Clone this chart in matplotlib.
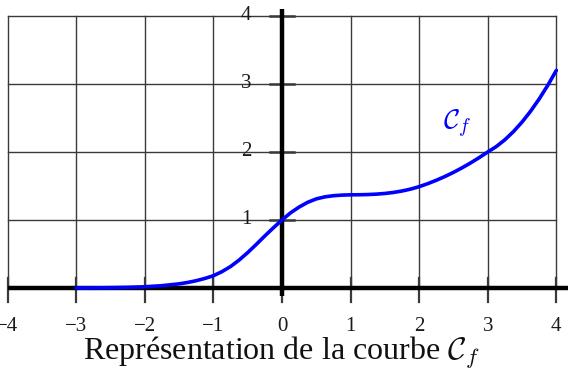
import matplotlib
matplotlib.use("Agg")
import matplotlib.pyplot as plt

# Data
x_vals = [-3.0, -2.75, -2.5, -2.25, -2.0, -1.75, -1.5, -1.375, -1.25, -1.125,
          -1.0, -0.875, -0.75, -0.625, -0.5, -0.375, -0.25, -0.125,
          0.0, 0.125, 0.25, 0.375, 0.5, 0.625, 0.75, 0.875,
          1.0, 1.125, 1.25, 1.375, 1.5, 1.625, 1.75, 1.875,
          2.0, 2.125, 2.25, 2.375, 2.5, 2.625, 2.75, 2.875,
          3.0, 3.125, 3.25, 3.375, 3.5, 3.625, 3.75, 3.875, 4.0]
y_vals = [0.0, 0.001, 0.004, 0.009, 0.018, 0.034, 0.061, 0.081, 0.107, 0.14,
          0.18, 0.24, 0.315, 0.41, 0.52, 0.64, 0.765, 0.885,
          1.0, 1.105, 1.19, 1.26, 1.31, 1.34, 1.357, 1.366,
          1.37, 1.371, 1.374, 1.38, 1.39, 1.405, 1.426, 1.454,
          1.49, 1.534, 1.584, 1.639, 1.70, 1.767, 1.839, 1.917,
          2.0, 2.08, 2.18, 2.30, 2.44, 2.60, 2.78, 2.98, 3.2]
x_ticks = [-4, -3, -2, -1, 0, 1, 2, 3, 4]
y_ticks = [1, 2, 3, 4]
curve_label = r"$\mathcal{C}_f$"
title = r"Représentation de la courbe $\mathcal{C}_f$"

plt.rcParams['mathtext.fontset'] = 'cm'
serif = ['Liberation Serif', 'DejaVu Serif']

fig = plt.figure(figsize=(5.68, 3.70), dpi=100)
ax = fig.add_axes([0, 0, 1, 1])
ax.set_xlim(-4.11, 4.17)
ax.set_ylim(-1.206, 4.235)
ax.axis('off')

grid_c = '#3a3a3a'
for xv in x_ticks:
    ax.plot([xv, xv], [0, 4], color=grid_c, lw=1.0, zorder=1)
    ax.plot([xv, xv], [-0.2, 0.15], color=grid_c, lw=1.6, zorder=2)
for yv in [0] + y_ticks:
    ax.plot([-4, 4], [yv, yv], color=grid_c, lw=1.0, zorder=1)
for yv in y_ticks:
    ax.plot([-0.18, 0.18], [yv, yv], color=grid_c, lw=1.8, zorder=2)

# axes
ax.plot([-4, 4.3], [0, 0], color='black', lw=3.2, zorder=3, solid_capstyle='butt')
ax.plot([0, 0], [-0.12, 4.1], color='black', lw=3.2, zorder=3, solid_capstyle='butt')

# curve
ax.plot(x_vals, y_vals, color='#0000ff', lw=2.6, zorder=4,
        solid_capstyle='round', solid_joinstyle='round')
ax.text(2.55, 2.42, curve_label, color='#0000ff', fontsize=20, ha='center', va='center')

# tick labels
for xv in x_ticks:
    lab = str(xv).replace('-', '\u2212')
    ax.text(xv, -0.56, lab, ha='center', va='center', fontsize=15, family=serif, color='#1a1a1a')
for yv in y_ticks:
    ax.text(-0.52, yv, str(yv), ha='center', va='center', fontsize=15, family=serif, color='#1a1a1a')

ax.text(0.0, -0.95, title, ha='center', va='center', fontsize=23, family=serif, color='#111111')

fig.savefig('out.png', dpi=100)
